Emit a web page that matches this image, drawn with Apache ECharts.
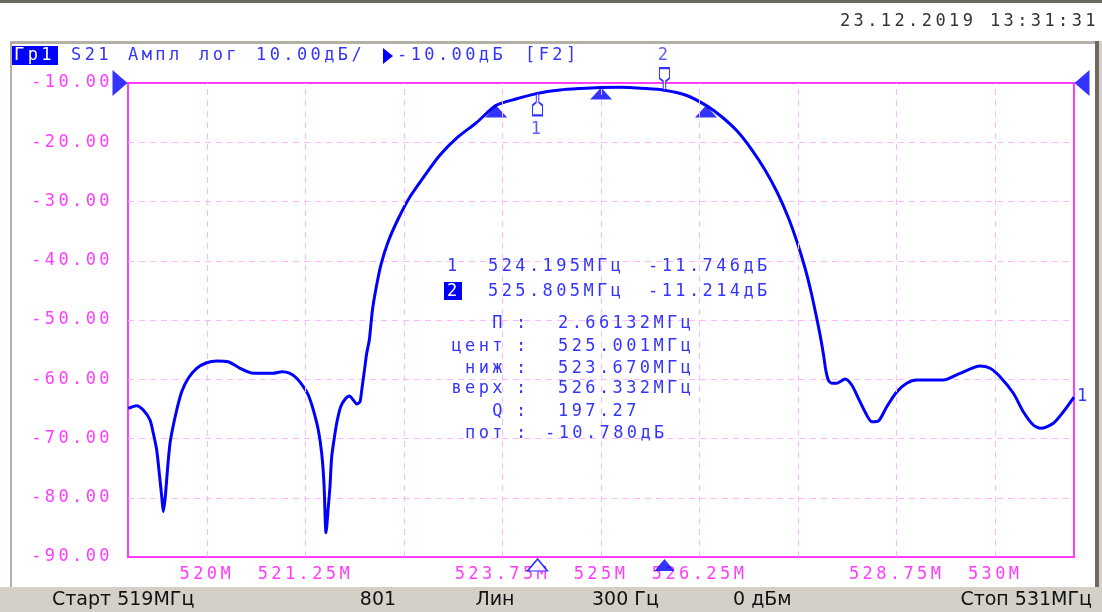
<!DOCTYPE html>
<html><head><meta charset="utf-8">
<script src="https://cdn.jsdelivr.net/npm/echarts@6/dist/echarts.min.js"></script>
<style>html,body{margin:0;padding:0;background:#fff}#c{width:1102px;height:612px}</style>
</head><body><div id="c"></div>
<script>
// monospaced VNA font look: add letter spacing to mono texts
(function(){
  var P = CanvasRenderingContext2D.prototype;
  var f = P.fillText, s = P.strokeText, m = P.measureText;
  function ls(ctx){ ctx.letterSpacing = /Mono/.test(ctx.font) ? '3.4px' : '0px'; }
  P.fillText = function(){ ls(this); return f.apply(this, arguments); };
  P.strokeText = function(){ ls(this); return s.apply(this, arguments); };
  P.measureText = function(){ ls(this); return m.apply(this, arguments); };
})();

// ---- data ----
const freqMHz = [519.004,519.110,519.194,519.279,519.321,519.364,519.397,519.428,519.448,519.473,519.504,519.533,519.567,519.618,519.681,519.765,519.871,519.998,520.125,520.272,520.421,520.590,520.843,520.950,521.055,521.140,521.224,521.287,521.351,521.414,521.457,521.486,521.512,521.541,521.562,521.584,521.626,521.655,521.698,521.753,521.807,521.858,521.901,521.943,521.965,521.994,522.028,522.061,
522.100,522.150,522.210,522.300,522.425,522.577,522.768,522.958,523.186,523.415,523.670,523.920,524.195,524.480,524.734,524.988,525.241,525.558,525.805,526.070,526.332,526.535,526.738,526.916,527.081,527.233,527.373,527.487,527.588,527.665,527.728,527.779,527.823,527.851,527.884,527.927,527.991,528.096,528.181,528.265,528.350,528.435,528.518,528.625,528.751,528.878,529.005,529.342,529.554,529.808,529.935,530.062,530.231,530.357,530.484,530.578,530.738,530.865,531.000];
const s21dB = [-64.90,-64.46,-65.19,-66.88,-69.12,-71.94,-75.88,-79.82,-82.35,-79.82,-74.76,-70.81,-68.28,-65.19,-62.10,-59.84,-58.15,-57.21,-56.92,-57.04,-58.15,-59.00,-59.00,-58.73,-59.00,-59.84,-61.26,-62.66,-65.19,-68.57,-72.50,-77.56,-85.90,-81.51,-78.14,-73.07,-69.12,-66.88,-64.63,-63.38,-62.83,-63.50,-64.18,-63.79,-61.81,-59.00,-55.62,-53.38,
-48.40,-44.40,-40.60,-36.80,-33.00,-29.20,-25.53,-22.15,-19.11,-16.75,-13.78,-12.70,-11.746,-11.18,-10.93,-10.76,-10.73,-10.93,-11.214,-12.03,-13.78,-15.74,-18.27,-21.31,-24.68,-28.40,-32.62,-36.84,-41.22,-45.27,-49.16,-52.53,-55.91,-58.44,-60.13,-60.68,-60.68,-59.96,-60.97,-63.22,-65.53,-67.17,-67.05,-64.63,-62.15,-60.68,-60.13,-60.13,-59.00,-57.76,-58.15,-59.57,-62.37,-65.48,-67.72,-68.28,-67.43,-65.48,-63.00];
const xLabelValues = [520, 521.25, 523.75, 525, 526.25, 528.75, 530];
const xGridValues = [520, 521.25, 522.5, 523.75, 525, 526.25, 527.5, 528.75, 530];
const markerFreq = [524.195, 525.805];
const markerDb = [-11.746, -11.214];
const bwFreq = [523.670, 525.001, 526.332];
const bwDb = [-13.78, -10.78, -13.78];
const startMHz = 519, stopMHz = 531, refDb = -10, bottomDb = -90;

// ---- styles ----
const MONO = 'DejaVu Sans Mono';
const MAG = '#ff3cff';
const GRID = '#ffb8ff';
const BLUE = '#0000ff';
const TXTBLUE = '#3434ff';
const FS = 17;

const pathUp = 'path://M4 0 L6 0 L6 9 L9 12 L9 22 L1 22 L1 12 L4 9 Z';
const pathDown = 'path://M1 0 L9 0 L9 10 L6 13 L6 22 L4 22 L4 13 L1 10 Z';
const triRight = 'path://M0 0 L15 13 L0 26 Z';
const triLeft = 'path://M15 0 L0 13 L15 26 Z';

function txt(x, y, text, opt) {
  return Object.assign({ type: 'text', x: x, y: y, silent: true, z: 10,
    style: Object.assign({ text: text, fill: TXTBLUE, font: FS + 'px "' + MONO + '"', textVerticalAlign: 'middle', textAlign: 'left' }, opt || {}) });
}
const SB = { fill: '#111', font: '19px "DejaVu Sans"' };

const graphics = [
  { type: 'rect', shape: { x: 0, y: 0, width: 1102, height: 3 }, style: { fill: '#6c6a60' }, silent: true },
  { type: 'rect', shape: { x: 10, y: 41, width: 1092, height: 3 }, style: { fill: '#b4b0a6' }, silent: true },
  { type: 'rect', shape: { x: 10, y: 41, width: 2, height: 546 }, style: { fill: '#b4b0a6' }, silent: true },
  { type: 'rect', shape: { x: 1095, y: 41, width: 4, height: 546 }, style: { fill: '#6c6a60' }, silent: true },
  { type: 'rect', shape: { x: 1099, y: 41, width: 3, height: 546 }, style: { fill: '#d4d0c8' }, silent: true },
  { type: 'rect', shape: { x: 0, y: 587, width: 1102, height: 25 }, style: { fill: '#d4d0c8' }, silent: true },
  txt(1099, 22, '23.12.2019 13:31:31', { fill: '#333333', textAlign: 'right' }),
  { type: 'rect', shape: { x: 12, y: 46, width: 46, height: 19 }, style: { fill: '#0000ff' }, silent: true, z: 9 },
  txt(14, 56, 'Гр1', { fill: '#ffffff' }),
  txt(71, 56, 'S21'), txt(128, 56, 'Ампл'), txt(199, 56, 'лог'), txt(256, 56, '10.00дБ/'),
  { type: 'polygon', shape: { points: [[383, 48], [393, 56], [383, 64]] }, style: { fill: BLUE }, silent: true, z: 10 },
  txt(397, 56, '-10.00дБ'), txt(525, 56, '[F2]'),
  // marker readout
  txt(447, 267, '1'),
  txt(488, 267, '524.195МГц'),
  txt(648, 267, '-11.746дБ'),
  { type: 'rect', shape: { x: 444, y: 282, width: 18, height: 18 }, style: { fill: '#0000ff' }, silent: true, z: 9 },
  txt(447, 292, '2', { fill: '#ffffff' }),
  txt(488, 292, '525.805МГц'),
  txt(648, 292, '-11.214дБ'),
  txt(506, 324, 'П', { textAlign: 'right' }), txt(516, 324, ':'), txt(558, 324, '2.66132МГц'),
  txt(506, 347, 'цент', { textAlign: 'right' }), txt(516, 347, ':'), txt(558, 347, '525.001МГц'),
  txt(506, 369, 'ниж', { textAlign: 'right' }), txt(516, 369, ':'), txt(558, 369, '523.670МГц'),
  txt(506, 389, 'верх', { textAlign: 'right' }), txt(516, 389, ':'), txt(558, 389, '526.332МГц'),
  txt(506, 412, 'Q', { textAlign: 'right' }), txt(516, 412, ':'), txt(558, 412, '197.27'),
  txt(506, 434, 'пот', { textAlign: 'right' }), txt(516, 434, ':'), txt(545, 434, '-10.780дБ'),
  // status bar
  txt(52, 600, 'Старт 519МГц', SB),
  txt(378, 600, '801', Object.assign({}, SB, { textAlign: 'center' })),
  txt(495, 600, 'Лин', Object.assign({}, SB, { textAlign: 'center' })),
  txt(592, 600, '300 Гц', SB),
  txt(733, 600, '0 дБм', SB),
  txt(1092, 600, 'Стоп 531МГц', Object.assign({}, SB, { textAlign: 'right' }))
];

const chart = echarts.init(document.getElementById('c'));
chart.setOption({
  animation: false,
  backgroundColor: '#ffffff',
  grid: { left: 128, right: 28, top: 83, bottom: 55, show: true, borderColor: MAG, borderWidth: 2, backgroundColor: 'transparent' },
  xAxis: {
    type: 'value', min: startMHz, max: stopMHz,
    axisLine: { show: false }, axisTick: { show: false }, splitLine: { show: false },
    axisLabel: { customValues: xLabelValues, formatter: v => v + 'M', color: MAG, fontFamily: MONO, fontSize: FS, margin: 7 }
  },
  yAxis: {
    type: 'value', min: bottomDb, max: refDb, interval: 10,
    axisLine: { show: false }, axisTick: { show: false },
    axisLabel: { formatter: v => v.toFixed(2), color: MAG, fontFamily: MONO, fontSize: FS, margin: 15, padding: [3, 0, 0, 0] },
    splitLine: { show: true, showMinLine: false, showMaxLine: false, lineStyle: { color: GRID, type: [6, 5], width: 1 } }
  },
  graphic: graphics,
  series: [
    { type: 'scatter', z: 1, data: [], silent: true,
      markLine: { silent: true, symbol: 'none', animation: false, label: { show: false },
        lineStyle: { color: GRID, type: [6, 5], width: 1 },
        data: xGridValues.map(v => ({ xAxis: v })) } },
    { type: 'line', z: 3, showSymbol: false, smooth: 0.25, silent: true,
      data: freqMHz.map((f, i) => [f, s21dB[i]]),
      lineStyle: { color: BLUE, width: 3 },
      endLabel: { show: true, formatter: '1', color: TXTBLUE, fontFamily: MONO, fontSize: FS, distance: 3, padding: [7, 0, 0, 0] } },
    { type: 'scatter', z: 4, silent: true, clip: false,
      symbol: 'triangle', symbolSize: [22, 12], symbolOffset: [0, 6],
      itemStyle: { color: BLUE },
      data: bwFreq.map((f, i) => [f, bwDb[i]]) },
    { type: 'scatter', z: 5, silent: true, clip: false,
      itemStyle: { color: '#ffffff', borderColor: BLUE, borderWidth: 1.5 },
      label: { show: true, color: TXTBLUE, fontFamily: MONO, fontSize: FS, formatter: p => p.name },
      data: [
        { name: '1', value: [markerFreq[0], markerDb[0]], symbol: pathUp, symbolSize: [10, 22], symbolOffset: [0, 11], label: { position: 'bottom', distance: 3 } },
        { name: '2', value: [markerFreq[1], markerDb[1]], symbol: pathDown, symbolSize: [10, 22], symbolOffset: [0, -11], label: { position: 'top', distance: 1 } }
      ] },
    { type: 'scatter', z: 5, silent: true, clip: false,
      symbol: 'triangle', symbolSize: [20, 12], symbolOffset: [0, 8],
      data: [
        { value: [markerFreq[0], bottomDb], itemStyle: { color: '#ffffff', borderColor: BLUE, borderWidth: 1.5 } },
        { value: [markerFreq[1], bottomDb], itemStyle: { color: BLUE } }
      ] },
    { type: 'scatter', z: 5, silent: true, clip: false, itemStyle: { color: BLUE },
      data: [
        { value: [startMHz, refDb], symbol: triRight, symbolSize: [15, 26], symbolOffset: [-8, 0] },
        { value: [stopMHz, refDb], symbol: triLeft, symbolSize: [15, 26], symbolOffset: [8, 0] }
      ] }
  ]
});
</script></body></html>
